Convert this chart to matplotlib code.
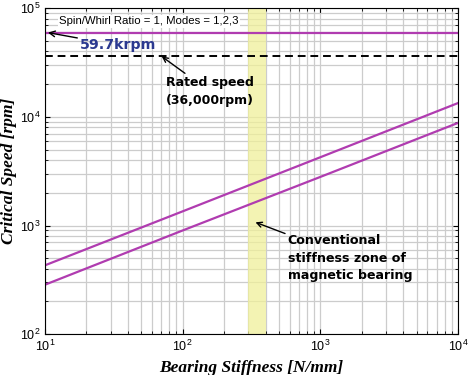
import numpy as np
import matplotlib.pyplot as plt

plt.rcParams['mathtext.fontset'] = 'custom'
plt.rcParams['mathtext.rm'] = 'Liberation Sans'

# data
stiffness = [10, 100, 1000, 10000]          # N/mm
mode_upper = [430, 1350, 4250, 13400]       # rpm
mode_lower = [285, 900, 2800, 8800]         # rpm
stiff_range = [10, 10000]
mode_high = [59700, 59700]
rated_speed = 36000
zone = [300, 400]

fig = plt.figure(figsize=(4.72, 3.75), dpi=100)
ax = fig.add_axes([0.0953, 0.109, 0.875, 0.869])

ax.axvspan(zone[0], zone[1], color='#f0f09a', alpha=0.75, lw=0, zorder=0.6)
ax.plot(stiffness, mode_upper, color='#b03cb0', lw=1.6)
ax.plot(stiffness, mode_lower, color='#b03cb0', lw=1.6)
ax.plot(stiff_range, mode_high, color='#b03cb0', lw=1.6)
ax.axhline(rated_speed, color='black', ls=(0, (4, 2.5)), lw=1.4)

ax.set_xscale('log')
ax.set_yscale('log')
ax.set_xlim(10, 10000)
ax.set_ylim(100, 100000)
ax.set_axisbelow(True)
ax.grid(True, which='both', color='#cccccc', lw=0.9)
ax.tick_params(which='both', direction='in', top=True, right=True, labelsize=9)
for lbl in ax.get_xticklabels() + ax.get_yticklabels():
    lbl.set_family('Liberation Sans')

ax.set_xlabel('Bearing Stiffness [N/mm]', family='Liberation Serif', style='italic',
              weight='bold', fontsize=12.5, labelpad=4)
ax.set_ylabel('Critical Speed [rpm]', family='Liberation Serif', style='italic',
              weight='bold', fontsize=12.5, labelpad=2)

ax.text(0.035, 0.96, 'Spin/Whirl Ratio = 1, Modes = 1,2,3', transform=ax.transAxes,
        family='Liberation Sans', fontsize=8.2, va='center', ha='left',
        bbox=dict(facecolor='white', edgecolor='none', pad=1))

arrow = dict(arrowstyle='->', color='black', lw=1, shrinkA=0, shrinkB=0)
ax.annotate('59.7krpm', xy=(10.5, 59700), xytext=(0.085, 0.886), textcoords='axes fraction',
            ha='left', va='center', fontsize=10.2, weight='bold', color='#2b3990',
            arrowprops=arrow)
ax.annotate('Rated speed\n(36,000rpm)', xy=(70.5, 36000), xytext=(0.399, 0.745),
            textcoords='axes fraction', ha='center', va='center', fontsize=9,
            weight='bold', arrowprops=arrow, linespacing=1.45)
ax.annotate('Conventional\nstiffness zone of\nmagnetic bearing', xy=(338, 1070),
            xytext=(0.588, 0.233), textcoords='axes fraction', ha='left', va='center',
            fontsize=9.1, weight='bold', arrowprops=arrow, linespacing=1.45)

fig.savefig('out.png', dpi=100)
